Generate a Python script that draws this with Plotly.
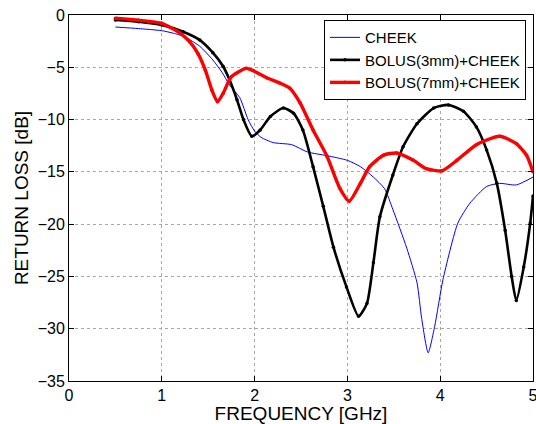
import plotly.graph_objects as go

# CHEEK
f_cheek = [0.50, 0.75, 1.00, 1.15, 1.25, 1.41, 1.55, 1.65, 1.73, 1.84, 1.93, 2.00, 2.07, 2.20, 2.40,
           2.57, 2.78, 3.00, 3.14, 3.28, 3.40, 3.49, 3.64, 3.75, 3.80, 3.87, 3.94, 4.03, 4.19, 4.32,
           4.50, 4.64, 4.82, 5.00]
rl_cheek = [-1.15, -1.3, -1.5, -1.8, -2.1, -3.0, -4.3, -5.5, -6.7, -7.9, -10.0, -11.1, -11.7, -12.2, -12.4,
            -13.1, -13.45, -13.9, -14.5, -15.5, -16.6, -18.6, -22.3, -25.6, -29.0, -32.3, -29.8, -25.3, -19.9, -18.0,
            -16.4, -16.1, -16.25, -15.5]

# BOLUS(3mm)+CHEEK
f_b3 = [0.50, 0.75, 1.00, 1.23, 1.41, 1.55, 1.66, 1.73, 1.81, 1.88, 1.97, 2.06, 2.17, 2.31, 2.42,
        2.52, 2.63, 2.74, 2.85, 2.99, 3.12, 3.21, 3.28, 3.35, 3.49, 3.60, 3.75, 3.93, 4.09, 4.25,
        4.39, 4.50, 4.61, 4.70, 4.77, 4.82, 4.90, 4.97, 5.00]
rl_b3 = [-0.48, -0.65, -0.96, -1.6, -2.4, -3.6, -4.9, -6.2, -8.1, -10.0, -11.6, -11.0, -9.7, -8.9, -9.4,
         -11.0, -14.5, -18.3, -22.2, -26.0, -28.8, -27.6, -23.7, -19.3, -15.3, -12.6, -10.4, -8.9, -8.6, -9.2,
         -10.7, -12.9, -16.1, -20.6, -25.0, -27.3, -24.1, -19.9, -17.3]

# BOLUS(7mm)+CHEEK
f_b7 = [0.50, 0.75, 1.00, 1.20, 1.30, 1.39, 1.47, 1.54, 1.60, 1.66, 1.75, 1.91, 1.98, 2.13, 2.27,
        2.38, 2.49, 2.63, 2.78, 2.92, 3.02, 3.14, 3.24, 3.39, 3.53, 3.71, 3.85, 4.02, 4.18, 4.39,
        4.64, 4.82, 4.93, 5.00]
rl_b7 = [-0.3, -0.5, -0.8, -1.75, -2.55, -3.7, -5.3, -7.2, -8.3, -7.5, -5.9, -5.1, -5.3, -6.0, -6.5,
         -7.0, -8.4, -11.0, -13.5, -16.6, -17.8, -16.1, -14.5, -13.4, -13.2, -13.9, -14.7, -14.9, -13.9, -12.4,
         -11.6, -12.3, -13.4, -15.0]

x_ticks = [0, 1, 2, 3, 4, 5]
y_ticks = [-35, -30, -25, -20, -15, -10, -5, 0]

fig = go.Figure()
fig.add_trace(go.Scatter(x=f_cheek, y=rl_cheek, mode="lines", name="CHEEK",
                         line=dict(color="#0000ff", width=1, shape="spline", smoothing=0.6)))
fig.add_trace(go.Scatter(x=f_b3, y=rl_b3, mode="lines+markers", name="BOLUS(3mm)+CHEEK",
                         line=dict(color="black", width=2.6, shape="spline", smoothing=0.6),
                         marker=dict(color="black", size=3.5)))
fig.add_trace(go.Scatter(x=f_b7, y=rl_b7, mode="lines+markers", name="BOLUS(7mm)+CHEEK",
                         line=dict(color="#ff0000", width=3.4, shape="spline", smoothing=0.6),
                         marker=dict(color="#ff0000", size=3.5)))

axis_common = dict(showline=True, linecolor="black", linewidth=1, mirror="ticks",
                   ticks="inside", ticklen=5, tickcolor="black",
                   showgrid=True, gridcolor="#a8a8a8", griddash="dot", gridwidth=1,
                   zeroline=False, tickfont=dict(size=16, color="black"),
                   ticklabeloverflow="allow", automargin=False)

fig.update_xaxes(range=[0, 5], tickvals=x_ticks, ticktext=[str(v) for v in x_ticks],
                 title=dict(text="FREQUENCY [GHz]", font=dict(size=19, color="black"), standoff=2),
                 **axis_common)
fig.update_yaxes(range=[-35, 0], tickvals=y_ticks,
                 ticktext=[("\u2212" + str(-v)) if v < 0 else str(v) for v in y_ticks],
                 title=dict(text="RETURN LOSS [dB]", font=dict(size=19, color="black"), standoff=4),
                 **axis_common)

fig.update_layout(
    width=536, height=424,
    margin=dict(l=69, r=3, t=15, b=43, autoexpand=False),
    paper_bgcolor="white", plot_bgcolor="white",
    font=dict(family="Liberation Sans, Arial, sans-serif", color="black"),
    showlegend=True,
    legend=dict(x=0.985, y=0.986, xanchor="right", yanchor="top",
                bgcolor="white", bordercolor="black", borderwidth=1,
                font=dict(size=15, color="black"), tracegroupgap=0,
                itemwidth=30),
)

fig.write_html("out.html")
